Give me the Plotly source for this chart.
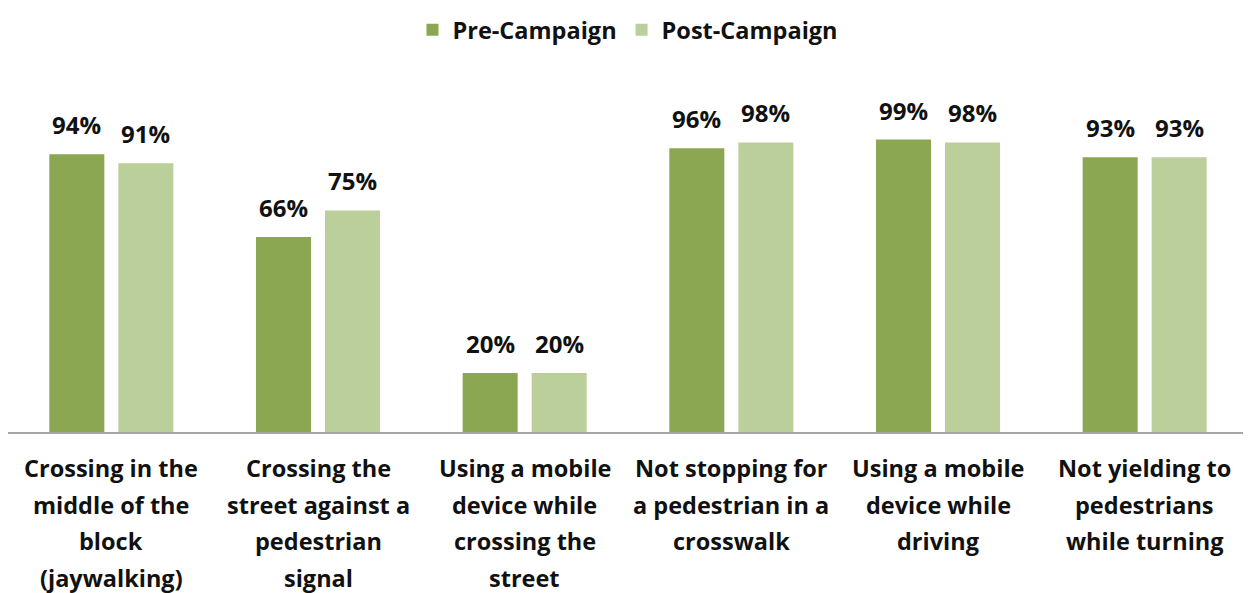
import plotly.graph_objects as go

categories = [
    "Crossing in the middle of the block (jaywalking)",
    "Crossing the street against a pedestrian signal",
    "Using a mobile device while crossing the street",
    "Not stopping for a pedestrian in a crosswalk",
    "Using a mobile device while driving",
    "Not yielding to pedestrians while turning",
]
label_lines = [
    ["Crossing in the", "middle of the", "block", "(jaywalking)"],
    ["Crossing the", "street against a", "pedestrian", "signal"],
    ["Using a mobile", "device while", "crossing the", "street"],
    ["Not stopping for", "a pedestrian in a", "crosswalk"],
    ["Using a mobile", "device while", "driving"],
    ["Not yielding to", "pedestrians", "while turning"],
]
pre_campaign = [94, 66, 20, 96, 99, 93]
post_campaign = [91, 75, 20, 98, 98, 93]

PRE_COLOR = "#8CA752"
POST_COLOR = "#BACF9A"
FONT = "Open Sans"

fig = go.Figure()
fig.add_trace(
    go.Bar(x=categories, y=pre_campaign, name="Pre-Campaign",
           marker=dict(color=PRE_COLOR, line_width=0), hoverinfo="skip")
)
fig.add_trace(
    go.Bar(x=categories, y=post_campaign, name="Post-Campaign",
           marker=dict(color=POST_COLOR, line_width=0), hoverinfo="skip")
)

annotations = []
# value labels above each bar
for series, shift in ((pre_campaign, -34.5), (post_campaign, 34.5)):
    for cat, val in zip(categories, series):
        annotations.append(dict(
            x=cat, y=val, xref="x", yref="y", text=f"<b>{val}%</b>",
            showarrow=False, yanchor="bottom", xshift=shift, yshift=11,
            font=dict(family=FONT, size=24, color="#111111"),
        ))
# category labels below the axis, one line at a time for wider line spacing
for cat, lines in zip(categories, label_lines):
    for i, line in enumerate(lines):
        annotations.append(dict(
            x=cat, y=0, xref="x", yref="y", text=f"<b>{line}</b>",
            showarrow=False, yanchor="middle", yshift=-36 - 36.5 * i,
            font=dict(family=FONT, size=23.5, color="#111111"),
        ))

# page body has an 8px margin, so the figure is sized to fit inside it
fig.update_layout(
    width=1243,
    height=585,
    margin=dict(l=0, r=3, t=99, b=161),
    paper_bgcolor="white",
    plot_bgcolor="white",
    barmode="group",
    bargap=0.332,
    bargroupgap=0.203,
    font=dict(family=FONT, color="#111111"),
    legend=dict(
        orientation="h", x=0.5, xanchor="center",
        yref="container", y=1.0, yanchor="top",
        font=dict(family=FONT, size=23.5, color="#111111", weight="bold"),
        itemwidth=30, tracegroupgap=0,
    ),
    xaxis=dict(showticklabels=False, showline=True, linecolor="#A6A6A6",
               linewidth=2, ticks="", showgrid=False, zeroline=False),
    yaxis=dict(range=[0, 110], visible=False, showgrid=False, zeroline=False),
    annotations=annotations,
)

fig.write_html("out.html")
